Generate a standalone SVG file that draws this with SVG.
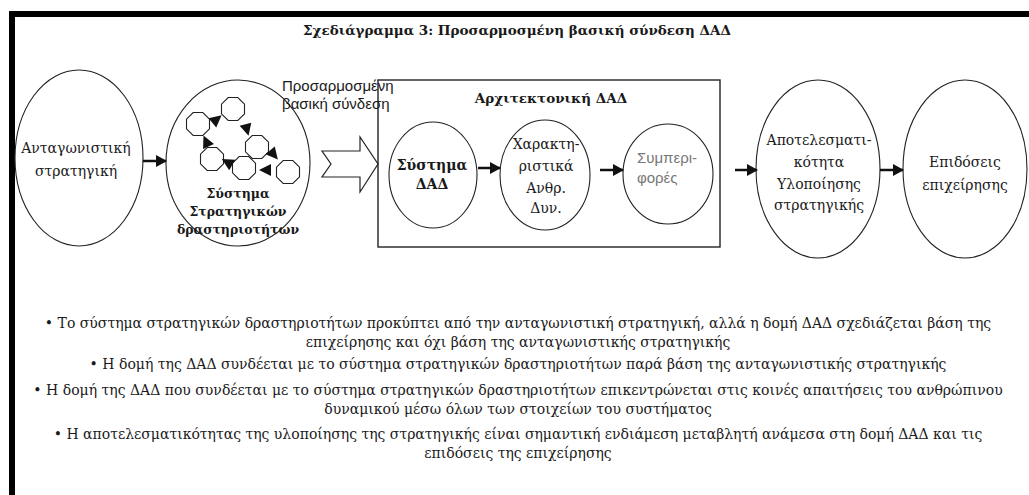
<svg xmlns="http://www.w3.org/2000/svg" width="1029" height="495" viewBox="0 0 1029 495">
<defs>
<style>
.t{font-family:"DejaVu Serif","Liberation Serif",serif;fill:#1a1a1a;}
.s{font-family:"Liberation Sans","DejaVu Sans",sans-serif;}
.n{font-size:14px;text-anchor:middle;}
.b{font-weight:bold;}
.e{fill:none;stroke:#222;stroke-width:1.1;}
.c{stroke:#111;stroke-width:2.5;fill:none;}
.o{fill:#fff;stroke:#222;stroke-width:1.1;}
.h{fill:#111;}
</style>
<marker id="ah" markerUnits="userSpaceOnUse" markerWidth="12" markerHeight="12" refX="10" refY="6" orient="auto">
<path d="M0,0 L11,6 L0,12 Z" fill="#111"/>
</marker>
<polygon id="oct" points="11.5,4.8 4.8,11.5 -4.8,11.5 -11.5,4.8 -11.5,-4.8 -4.8,-11.5 4.8,-11.5 11.5,-4.8"/>
<path id="tri" d="M6,0 L-6,-6 L-6,6 Z"/>
</defs>
<rect width="1029" height="495" fill="#fff"/>
<g id="frame">
<rect x="9" y="11" width="1020" height="6" fill="#000"/>
<rect x="9" y="11" width="6" height="484" fill="#000"/>
</g>
<text id="title" class="t b" x="517" y="35" font-size="13.5" text-anchor="middle">Σχεδιάγραμμα 3: Προσαρμοσμένη βασική σύνδεση ΔΑΔ</text>

<g id="n-antag">
<ellipse class="e" cx="79" cy="158" rx="64" ry="88"/>
<text class="t n" x="76" y="153">Ανταγωνιστική</text>
<text class="t n" x="76" y="176">στρατηγική</text>
</g>

<g id="n-system">
<ellipse class="e" cx="238" cy="163" rx="72" ry="83"/>
<use href="#oct" class="o" x="198" y="124"/>
<use href="#oct" class="o" x="233" y="109"/>
<use href="#oct" class="o" x="257" y="147"/>
<use href="#oct" class="o" x="212" y="159"/>
<use href="#oct" class="o" x="244" y="168"/>
<use href="#oct" class="o" x="288" y="172"/>
<use href="#tri" class="h" transform="translate(217,119) rotate(-40)"/>
<use href="#tri" class="h" transform="translate(247,130) rotate(75)"/>
<use href="#tri" class="h" transform="translate(274,155) rotate(50)"/>
<use href="#tri" class="h" transform="translate(265,170) rotate(180)"/>
<use href="#tri" class="h" transform="translate(227,162) rotate(210)"/>
<use href="#tri" class="h" transform="translate(206,141) rotate(-115)"/>
<text class="t b" x="238" y="198" font-size="12.5" text-anchor="middle">Σύστημα</text>
<text class="t b" x="238" y="216" font-size="12.5" text-anchor="middle">Στρατηγικών</text>
<text class="t b" x="238" y="234" font-size="12.5" text-anchor="middle">δραστηριοτήτων</text>
</g>

<g id="label-fit">
<text class="s" x="282" y="91" font-size="15" fill="#1a1a1a">Προσαρμοσμένη</text>
<text class="s" x="282" y="109" font-size="15" fill="#1a1a1a">βασική σύνδεση</text>
<path d="M322,151 L360,151 L360,137 L378,164 L360,192 L360,177 L322,177 L331,164 Z" fill="#fff" stroke="#222" stroke-width="1.2"/>
</g>

<g id="n-arch">
<rect x="378" y="80" width="342" height="167" fill="none" stroke="#222" stroke-width="1.4"/>
<text class="t b" x="551" y="103" font-size="13.5" text-anchor="middle">Αρχιτεκτονική ΔΑΔ</text>
</g>

<g id="n-sysdad">
<ellipse class="e" cx="433" cy="175" rx="44" ry="53"/>
<text class="t n b" x="432" y="170">Σύστημα</text>
<text class="t n b" x="432" y="189">ΔΑΔ</text>
</g>

<g id="n-charact">
<ellipse class="e" cx="545" cy="175" rx="45" ry="55"/>
<text class="t n" x="546" y="149">Χαρακτη-</text>
<text class="t n" x="546" y="171">ριστικά</text>
<text class="t n" x="546" y="193">Ανθρ.</text>
<text class="t n" x="546" y="213">Δυν.</text>
</g>

<g id="n-behav">
<ellipse class="e" cx="668" cy="174" rx="45" ry="50"/>
<text class="s" x="637" y="163" font-size="15" fill="#777">Συμπερι-</text>
<text class="s" x="637" y="183" font-size="15" fill="#777">φορές</text>
</g>

<g id="n-effect">
<ellipse class="e" cx="818" cy="169" rx="62" ry="89"/>
<text class="t n" x="819" y="145">Αποτελεσματι-</text>
<text class="t n" x="819" y="167">κότητα</text>
<text class="t n" x="819" y="189">Υλοποίησης</text>
<text class="t n" x="819" y="210">στρατηγικής</text>
</g>

<g id="n-perf">
<ellipse class="e" cx="965" cy="169" rx="62" ry="89"/>
<text class="t n" x="965" y="167">Επιδόσεις</text>
<text class="t n" x="965" y="190">επιχείρησης</text>
</g>

<g id="connectors">
<line class="c" x1="143" y1="161" x2="166" y2="161" marker-end="url(#ah)"/>
<line class="c" x1="478" y1="168" x2="500" y2="168" marker-end="url(#ah)"/>
<line class="c" x1="600" y1="170" x2="623" y2="170" marker-end="url(#ah)"/>
<line class="c" x1="735" y1="170" x2="757" y2="170" marker-end="url(#ah)"/>
<line class="c" x1="880" y1="170" x2="903" y2="170" marker-end="url(#ah)"/>
</g>

<g id="notes" class="t" font-size="14" text-anchor="middle">
<text x="518" y="328">• Το σύστημα στρατηγικών δραστηριοτήτων προκύπτει από την ανταγωνιστική στρατηγική, αλλά η δομή ΔΑΔ σχεδιάζεται βάση της</text>
<text x="518" y="347">επιχείρησης και όχι βάση της ανταγωνιστικής στρατηγικής</text>
<text x="518" y="369">• Η δομή της ΔΑΔ συνδέεται με το σύστημα στρατηγικών δραστηριοτήτων παρά βάση της ανταγωνιστικής στρατηγικής</text>
<text x="518" y="395">• Η δομή της ΔΑΔ που συνδέεται με το σύστημα στρατηγικών δραστηριοτήτων επικεντρώνεται στις κοινές απαιτήσεις του ανθρώπινου</text>
<text x="518" y="414">δυναμικού μέσω όλων των στοιχείων του συστήματος</text>
<text x="518" y="439">• Η αποτελεσματικότητας της υλοποίησης της στρατηγικής είναι σημαντική ενδιάμεση μεταβλητή ανάμεσα στη δομή ΔΑΔ και τις</text>
<text x="518" y="458">επιδόσεις της επιχείρησης</text>
</g>
</svg>
